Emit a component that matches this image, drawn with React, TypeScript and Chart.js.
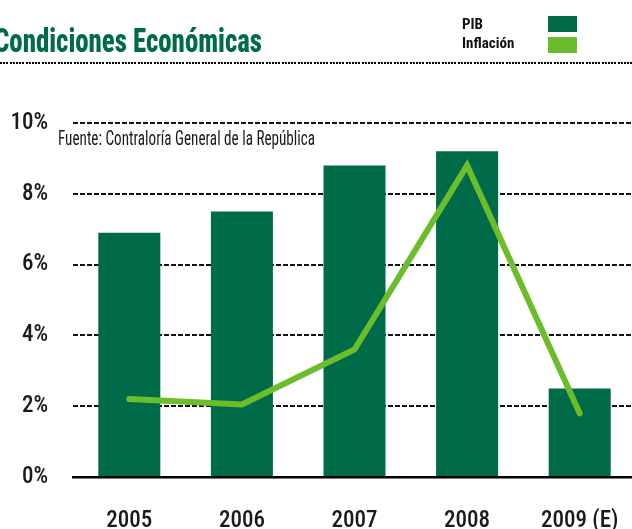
import React, { useEffect, useRef } from "react";
import { Chart, registerables } from "chart.js";

Chart.register(...registerables);

// ---- data ----
const categories = ["2005", "2006", "2007", "2008", "2009 (E)"];
const pibValues = [6.9, 7.5, 8.8, 9.2, 2.5];
const inflationValues = [2.2, 2.05, 3.6, 8.8, 1.8];
const yTickValues = [0, 2, 4, 6, 8, 10];
const legendLabels = ["PIB", "Inflación"];
const titleText = "Condiciones Económicas";
const sourceText = "Fuente: Contraloría General de la República";

// ---- styles ----
const DARK = "#006B48";
const LIGHT = "#6BBD2B";
const FONT = "Roboto, sans-serif";

function fitScale(text: string, font: string, target: number): number {
  const c = document.createElement("canvas").getContext("2d");
  if (!c) return 1;
  c.font = font;
  const w = c.measureText(text).width;
  return w > 0 ? target / w : 1;
}

export default function App() {
  const canvasRef = useRef<HTMLCanvasElement | null>(null);

  useEffect(() => {
    document.body.style.margin = "0";
    const canvas = canvasRef.current;
    if (!canvas) return;
    const chart = new Chart(canvas, {
      type: "bar",
      data: {
        labels: categories,
        datasets: [
          {
            type: "line",
            label: legendLabels[1],
            data: inflationValues,
            borderColor: LIGHT,
            backgroundColor: LIGHT,
            borderWidth: 6,
            pointRadius: 0,
            borderCapStyle: "round",
            borderJoinStyle: "miter",
            tension: 0,
            fill: false,
            order: 0,
          } as any,
          {
            type: "bar",
            label: legendLabels[0],
            data: pibValues,
            backgroundColor: DARK,
            borderWidth: 0,
            barPercentage: 0.551,
            categoryPercentage: 1,
            order: 1,
          } as any,
        ],
      },
      options: {
        responsive: false,
        animation: false,
        devicePixelRatio: 1,
        layout: { padding: { top: 123, right: 0, bottom: 0, left: 0 } },
        plugins: {
          legend: { display: false },
          tooltip: { enabled: false },
          title: { display: false },
        },
        scales: {
          x: {
            grid: { display: false, drawTicks: false },
            border: { display: true, color: "#000", width: 2.5 },
            ticks: {
              color: "#1a1a1a",
              font: { family: FONT, size: 23, weight: "500 condensed" as any },
              padding: 30,
              maxRotation: 0,
            },
            afterFit: (s: any) => {
              s.height = 52;
              s.paddingLeft = 0;
              s.paddingRight = 0;
            },
          },
          y: {
            min: 0,
            max: 10,
            afterBuildTicks: (s: any) => {
              s.ticks = yTickValues.map((v) => ({ value: v }));
            },
            grid: {
              drawTicks: false,
              color: (ctx: any) => (ctx.tick && ctx.tick.value === 0 ? "rgba(0,0,0,0)" : "#111"),
              lineWidth: 2,
            },
            border: { display: false, dash: [5, 2] },
            ticks: {
              color: "#1a1a1a",
              font: { family: FONT, size: 23, weight: "500 condensed" as any },
              padding: 25,
              callback: (v: any) => `${v}%`,
            },
            afterFit: (s: any) => {
              s.width = 73;
            },
          },
        },
      },
    });
    return () => chart.destroy();
  }, []);

  const titleFont = `800 condensed 33px ${FONT}`;
  const titleScale = fitScale(titleText, titleFont, 268);
  const sourceFont = `condensed 20px ${FONT}`;
  const sourceScale = fitScale(sourceText, sourceFont, 257);
  const legendFont = `bold condensed 15px ${FONT}`;

  return (
    <div
      style={{
        position: "fixed",
        left: 0,
        top: 0,
        width: 632,
        height: 529,
        overflow: "hidden",
        background: "#fff",
      }}
    >
      <canvas
        ref={canvasRef}
        width={636}
        height={529}
        style={{ position: "absolute", left: 0, top: 0, width: 636, height: 529 }}
      />
      <div
        style={{
          position: "absolute",
          left: -6,
          top: 24,
          font: titleFont,
          lineHeight: 1,
          color: DARK,
          whiteSpace: "nowrap",
          transform: `scaleX(${titleScale})`,
          transformOrigin: "left top",
        }}
      >
        {titleText}
      </div>
      <div
        style={{
          position: "absolute",
          left: 0,
          top: 62,
          width: 632,
          height: 2,
          backgroundImage:
            "repeating-linear-gradient(90deg, #000 0px, #000 2px, transparent 2px, transparent 3.2px)",
        }}
      />
      <div
        style={{
          position: "absolute",
          left: 462,
          top: 17,
          font: legendFont,
          lineHeight: 1,
          color: "#111",
        }}
      >
        {legendLabels[0]}
      </div>
      <div
        style={{
          position: "absolute",
          left: 462,
          top: 36,
          font: legendFont,
          lineHeight: 1,
          color: "#111",
        }}
      >
        {legendLabels[1]}
      </div>
      <div style={{ position: "absolute", left: 548, top: 16, width: 29, height: 16, background: DARK }} />
      <div style={{ position: "absolute", left: 548, top: 37, width: 29, height: 16, background: LIGHT }} />
      <div
        style={{
          position: "absolute",
          left: 58,
          top: 128,
          font: sourceFont,
          lineHeight: 1,
          color: "#1a1a1a",
          whiteSpace: "nowrap",
          transform: `scaleX(${sourceScale})`,
          transformOrigin: "left top",
        }}
      >
        {sourceText}
      </div>
    </div>
  );
}
